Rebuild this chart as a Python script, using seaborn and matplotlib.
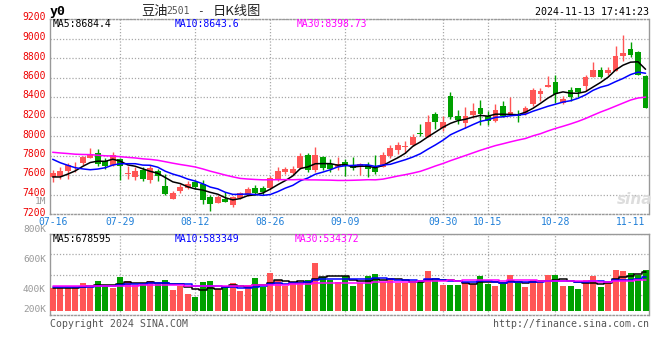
import numpy as np
import pandas as pd
import matplotlib
matplotlib.use("Agg")
import matplotlib.pyplot as plt
import matplotlib.transforms as mtransforms
import seaborn as sns

# trading days on the chart (DCE soybean oil y2501, daily)
holidays = ["2024-09-16", "2024-09-17", "2024-10-01", "2024-10-02",
            "2024-10-03", "2024-10-04", "2024-10-07"]
tick_labels = ["07-16", "07-29", "08-12", "08-26", "09-09",
               "09-30", "10-15", "10-28", "11-11"]

opens = [7575, 7592, 7645, 7688, 7726, 7778, 7822, 7744, 7705, 7765,
         7612, 7583, 7651, 7552, 7641, 7487, 7358, 7440, 7464, 7525,
         7510, 7375, 7316, 7350, 7292, 7360, 7395, 7464, 7466, 7466,
         7560, 7628, 7617, 7672, 7803, 7650, 7785, 7715, 7685, 7735,
         7703, 7692, 7705, 7675, 7686, 7795, 7856, 7885, 7905, 8030,
         7993, 8226, 8079, 8410, 8205, 8136, 8215, 8284, 8205, 8157,
         8308, 8226, 8225, 8226, 8328, 8431, 8506, 8554, 8340, 8470,
         8495, 8516, 8610, 8680, 8645, 8670, 8820, 8890, 8862, 8612]
highs = [7651, 7680, 7725, 7735, 7800, 7880, 7870, 7772, 7840, 7775,
         7692, 7680, 7680, 7700, 7665, 7612, 7440, 7505, 7540, 7550,
         7545, 7395, 7395, 7430, 7385, 7425, 7474, 7497, 7485, 7590,
         7680, 7685, 7690, 7822, 7830, 7888, 7800, 7760, 7780, 7765,
         7780, 7722, 7735, 7805, 7840, 7910, 7942, 7952, 8020, 8125,
         8215, 8250, 8205, 8454, 8267, 8300, 8340, 8370, 8256, 8328,
         8360, 8403, 8265, 8310, 8490, 8490, 8615, 8626, 8410, 8500,
         8497, 8628, 8756, 8705, 8711, 8925, 9036, 8967, 8875, 8626]
lows = [7531, 7560, 7555, 7635, 7700, 7770, 7695, 7665, 7695, 7550,
        7560, 7545, 7540, 7521, 7535, 7395, 7355, 7415, 7453, 7455,
        7303, 7230, 7310, 7322, 7270, 7355, 7385, 7395, 7395, 7445,
        7540, 7610, 7605, 7660, 7635, 7635, 7650, 7635, 7655, 7590,
        7651, 7605, 7578, 7612, 7680, 7770, 7815, 7822, 7895, 8000,
        7986, 8070, 8055, 8171, 8118, 8085, 8180, 8113, 8113, 8147,
        8192, 8215, 8147, 8215, 8308, 8355, 8500, 8335, 8333, 8355,
        8395, 8465, 8608, 8600, 8626, 8667, 8772, 8807, 8625, 8283]
closes = [7617, 7640, 7705, 7694, 7786, 7815, 7710, 7695, 7803, 7688,
          7622, 7641, 7562, 7675, 7588, 7405, 7419, 7474, 7508, 7481,
          7345, 7303, 7378, 7327, 7372, 7412, 7453, 7419, 7421, 7570,
          7641, 7662, 7662, 7795, 7655, 7805, 7668, 7660, 7715, 7690,
          7672, 7713, 7662, 7635, 7805, 7877, 7908, 7893, 7993, 8025,
          8140, 8148, 8140, 8195, 8165, 8210, 8260, 8226, 8155, 8270,
          8205, 8250, 8210, 8285, 8470, 8460, 8520, 8435, 8378, 8404,
          8455, 8600, 8675, 8610, 8674, 8822, 8850, 8830, 8630, 8290]
vols = [390000, 401000, 401000, 419000, 487000, 419000, 516000, 430000, 401000, 591000,
        516000, 447000, 459000, 516000, 459000, 533000, 361000, 430000, 292000, 247000,
        493000, 516000, 373000, 419000, 476000, 344000, 447000, 573000, 419000, 659000,
        533000, 430000, 493000, 493000, 533000, 831000, 579000, 533000, 505000, 602000,
        430000, 476000, 602000, 636000, 505000, 573000, 476000, 476000, 476000, 533000,
        685000, 540000, 455000, 440000, 455000, 505000, 468000, 610000, 466000, 438000,
        468000, 625000, 484000, 410000, 540000, 496000, 625000, 625000, 438000, 424670,
        370000, 540000, 610000, 410000, 510515, 712000, 692000, 662000, 621000, 705975]

# sessions before 07-16, estimated from where the MA lines start
hist_close = [7850, 7880, 7900, 7870, 7860, 7890, 7880, 7870, 7886,
              7840, 7820, 7830, 7850, 7860, 7845, 7870, 7880, 7870, 7890,
              7939, 7990, 7970, 7940, 7910, 7900, 7640, 7560, 7530, 7553]
hist_vol = [440000, 430000, 445000, 420000, 435000, 450000, 425000, 440000, 430000, 445000,
            420000, 435000, 440000, 430000, 445000, 425000, 440000, 435000, 430000, 460000,
            440000, 430000, 445000, 425000, 435000, 410000, 395000, 420000, 390000]

UP, DOWN = "#ff5555", "#00a000"
GRID = "#a8a8a8"
DOT = (0, (1, 1.5))
MONO = "DejaVu Sans Mono"
CJK = ["Noto Sans CJK SC", "DejaVu Sans"]

days = pd.bdate_range("2024-07-16", "2024-11-13")
days = days[~days.isin(pd.to_datetime(holidays))]
labels = list(days.strftime("%m-%d"))
xs = np.arange(len(labels))

df = pd.DataFrame({"open": opens, "high": highs, "low": lows,
                   "close": closes, "vol": vols}, index=labels)
c_all = pd.Series(hist_close + closes, dtype=float)
v_all = pd.Series(hist_vol + vols, dtype=float)
nh = len(hist_close)
for w in (5, 10, 30):
    df[f"ma{w}"] = c_all.rolling(w).mean().iloc[nh:].to_numpy()
    df[f"vma{w}"] = v_all.rolling(w).mean().iloc[nh:].to_numpy()

sns.set_style("white")
plt.rcParams["font.family"] = [MONO]

W, H = 660, 360
fig = plt.figure(figsize=(W / 100, H / 100), dpi=100)


def ftext(x, y, s, **kw):
    fig.text(x / W, 1 - y / H, s, va="center", **kw)


ax = fig.add_axes([50 / W, 1 - 214 / H, 599 / W, 195 / H])
axv = fig.add_axes([50 / W, 1 - 315 / H, 599 / W, 81 / H])

col = np.where(df.close >= df.open, UP, DOWN)

# candles
ax.vlines(xs, df.low, df.high, colors=col, lw=1, zorder=3)
body = (df.close - df.open).abs().clip(lower=8)
ax.bar(xs, body, bottom=np.minimum(df.open, df.close), width=0.78,
       color=col, lw=0, zorder=3)
for key, c in (("ma5", "black"), ("ma10", "#0000ff"), ("ma30", "#ff00ff")):
    sns.lineplot(x=xs, y=df[key].to_numpy(), ax=ax, color=c, lw=1.1,
                 estimator=None, legend=False, zorder=4)

# volume
axv.bar(xs, df.vol, width=0.8, color=col, lw=0, zorder=3)
for key, c in (("vma5", "black"), ("vma10", "#0000ff"), ("vma30", "#ff00ff")):
    sns.lineplot(x=xs, y=df[key].to_numpy(), ax=axv, color=c, lw=1.1,
                 estimator=None, legend=False, drawstyle="steps-mid", zorder=4)

pos = [labels.index(t) for t in tick_labels]
for a in (ax, axv):
    a.set_xlim(-0.36, len(xs) - 0.54)
    a.set_xlabel("")
    a.set_ylabel("")
    for s in a.spines.values():
        s.set_color("#999999")
        s.set_linewidth(1)
    a.spines["bottom"].set_linestyle(DOT)
    for p in pos[1:-1]:
        a.axvline(p, color=GRID, lw=0.9, ls=DOT, zorder=1)
    a.yaxis.grid(True, color=GRID, lw=0.9, ls=DOT, zorder=1)
    a.tick_params(length=0)
ax.spines["top"].set_linestyle(DOT)

ax.set_ylim(7200, 9200)
ax.set_yticks(np.arange(7200, 9201, 200))
ax.tick_params(axis="y", pad=3, labelsize=7, labelcolor="#ee0000")
# the price labels sit a little above their grid lines
lift = mtransforms.ScaledTranslation(0, 2.5 / 100, fig.dpi_scale_trans)
for lab in ax.get_yticklabels():
    lab.set_transform(lab.get_transform() + lift)
ax.set_xticks(pos)
ax.set_xticklabels(tick_labels)
ax.tick_params(axis="x", pad=2.5, labelsize=7, labelcolor="#1f7fd8")

axv.set_ylim(-68800, 1324400)
axv.set_yticks(np.linspace(-68800, 1324400, 5))
axv.set_yticklabels([])
axv.set_xticks([])

# volume scale labels as the original prints them
for s, y in (("1M", 202), ("800K", 230), ("600K", 260), ("400K", 290), ("200K", 310)):
    ftext(46, y, s, ha="right", fontsize=6.8, color="#999999")

# header
ftext(50, 11, "y0", ha="left", fontsize=9.5, fontweight="bold", color="black")
ftext(141, 11, "豆油", ha="left", fontsize=9.5, family=CJK, color="#222222")
ftext(166, 11.5, "2501", ha="left", fontsize=7, color="#555555")
ftext(200, 11, "-", ha="center", fontsize=8, color="#222222")
ftext(213, 11, "日K线图", ha="left", fontsize=9.5, family=CJK, color="#222222")
ftext(649, 12, "2024-11-13 17:41:23", ha="right", fontsize=7.2, color="black")

last = df.iloc[-1]
for key, x, c in (("ma5", 53, "black"), ("ma10", 175, "#0000ff"), ("ma30", 297, "#ff00ff")):
    ftext(x, 24, f"{key.upper()}:{last[key]:.6g}", ha="left", fontsize=7, color=c)
for key, x, c in (("vma5", 53, "black"), ("vma10", 175, "#0000ff"), ("vma30", 295, "#ff00ff")):
    ftext(x, 239, f"{key[1:].upper()}:{last[key]:.6g}", ha="left", fontsize=7, color=c)

ftext(635, 199, "sina", ha="center", fontsize=11, fontstyle="italic",
      fontweight="bold", color="#dddddd", family="DejaVu Sans")

ftext(50, 324, "Copyright 2024 SINA.COM", ha="left", fontsize=7.1, color="#555555")
ftext(649, 324, "http://finance.sina.com.cn", ha="right", fontsize=7.1, color="#555555")

fig.savefig("out.png", dpi=100)
